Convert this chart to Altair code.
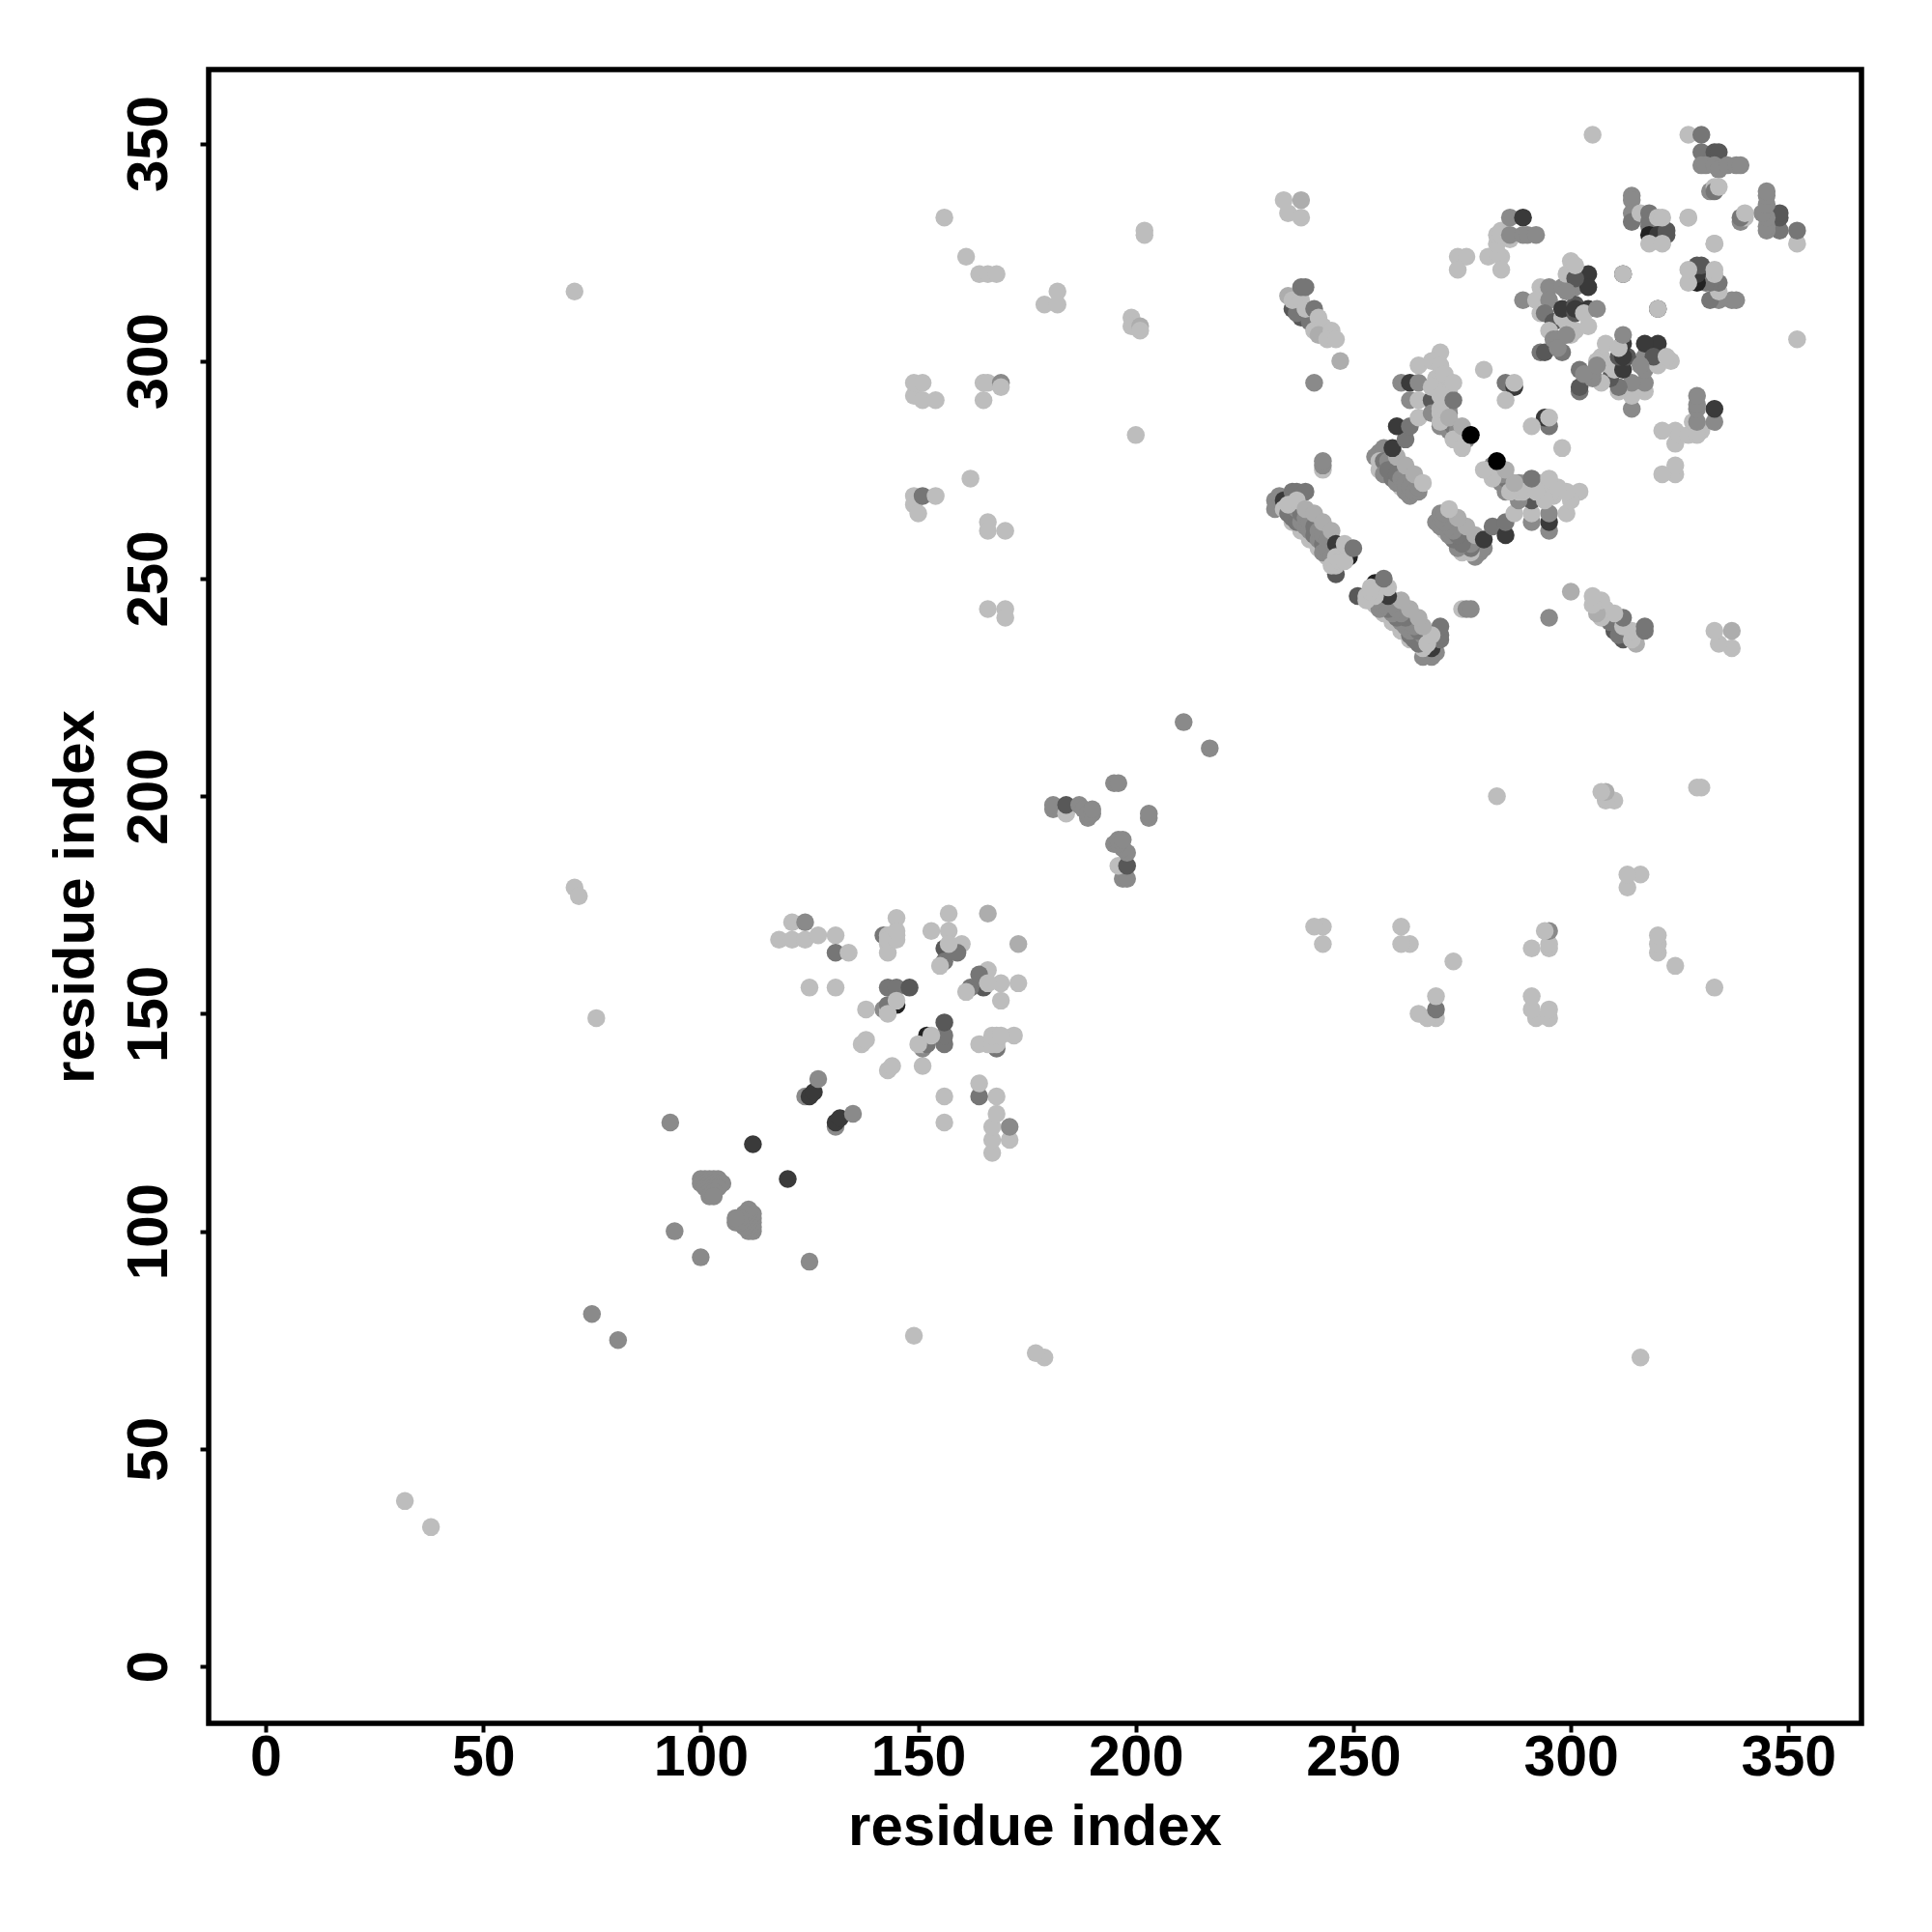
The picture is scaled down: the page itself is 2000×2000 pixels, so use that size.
import altair as alt
import pandas as pd

# contact level: 0 lightest ... 7 black
LEVELS = [0, 1, 2, 3, 4, 5, 6, 7]
SHADES = ["#bdbdbd", "#adadad", "#8a8a8a", "#767676", "#585858", "#3a3a3a", "#222222", "#000000"]
TICKS = [0, 50, 100, 150, 200, 250, 300, 350]
AXIS_TITLE = "residue index"

isolated = [
    (32, 38, 0), (75, 81, 2), (71, 179, 0), (72, 177, 0), (71, 316, 0), (76, 149, 0),
    (93, 125, 2), (94, 100, 2), (112, 120, 5), (211, 217, 2),
    (156, 333, 0), (161, 324, 0), (164, 320, 0), (166, 320, 0), (168, 320, 0),
    (179, 313, 0), (182, 316, 0), (182, 313, 0),
    (199, 310, 0), (199, 308, 0), (201, 308, 1), (201, 307, 0), (202, 330, 0), (202, 329, 0), (200, 283, 0),
    (149, 292, 0), (149, 295, 0), (151, 295, 0), (151, 291, 0), (154, 291, 0),
    (165, 291, 0), (165, 295, 0), (166, 295, 0), (169, 295, 2), (169, 294, 0),
    (149, 269, 0), (149, 267, 0), (150, 265, 0), (151, 269, 3), (154, 269, 0),
    (162, 273, 0), (166, 263, 0), (166, 261, 0), (170, 261, 0),
    (166, 243, 0), (170, 243, 0), (170, 241, 0),
    (234, 337, 0), (238, 337, 1), (235, 334, 0), (238, 333, 0),
]

cluster_100 = [
    (100, 112, 2), (101, 112, 2), (102, 112, 2), (103, 112, 2), (104, 112, 2),
    (100, 111, 2), (101, 111, 2), (102, 111, 2), (103, 111, 2), (104, 111, 2), (105, 111, 2),
    (101, 110, 2), (102, 110, 2), (103, 110, 2), (104, 110, 2),
    (102, 109, 2), (103, 109, 2), (102, 108, 2), (103, 108, 2),
]

cluster_150 = [
    (124, 131, 2), (125, 131, 5), (126, 132, 5), (127, 135, 2),
    (118, 167, 0), (121, 167, 0), (121, 171, 0), (124, 171, 2), (124, 167, 0), (127, 168, 0),
    (131, 168, 0), (131, 164, 3), (134, 164, 0), (125, 156, 0), (131, 156, 0),
    (145, 172, 0), (142, 168, 3), (143, 168, 0), (144, 168, 0), (145, 168, 0), (143, 166, 0), (143, 164, 0),
    (153, 169, 0), (157, 169, 0), (157, 173, 0), (166, 173, 1),
    (156, 165, 4), (158, 165, 3), (160, 166, 0), (156, 162, 3), (155, 161, 0), (159, 164, 3), (157, 166, 0),
    (143, 156, 3), (145, 156, 3), (148, 156, 4),
    (138, 151, 0), (142, 151, 2), (143, 151, 0), (145, 152, 6), (143, 152, 3), (143, 150, 0), (145, 153, 0),
    (143, 167, 0), (145, 167, 0), (145, 169, 0),
    (137, 143, 0), (138, 144, 0),
]

cluster_197 = [
    (181, 197, 2), (181, 198, 2), (184, 196, 0), (184, 198, 4),
    (187, 198, 2), (188, 197, 2), (189, 195, 2), (189, 196, 2), (190, 196, 2), (190, 197, 2),
    (195, 203, 2), (196, 203, 2),
]

band_a = [
    (232, 268, 2), (232, 266, 2), (233, 269, 2), (234, 268, 5), (236, 270, 3), (237, 270, 3), (239, 270, 3),
    (234, 266, 0), (236, 263, 0), (238, 261, 0), (240, 259, 0), (242, 257, 0), (244, 255, 0),
    (235, 265, 3), (236, 264, 3), (237, 263, 3), (238, 263, 2), (239, 262, 2), (240, 261, 2),
    (241, 260, 3), (242, 259, 2), (243, 258, 3), (243, 256, 2), (244, 257, 2), (245, 255, 2),
    (237, 266, 2), (238, 265, 3), (239, 264, 2), (240, 263, 2), (241, 262, 3), (242, 261, 2), (243, 260, 2), (244, 259, 2),
    (235, 267, 0), (237, 268, 0), (239, 266, 1), (241, 265, 1), (243, 263, 1), (245, 261, 1),
    (246, 251, 4), (246, 258, 5), (247, 256, 5), (249, 255, 6),
    (245, 253, 0), (246, 253, 0), (246, 255, 0), (247, 254, 0), (248, 254, 0),
    (248, 258, 0), (250, 257, 3),
    (243, 275, 0), (243, 276, 2), (243, 277, 2),
    (241, 295, 2), (247, 300, 1),
]

band_d = [
    (236, 312, 4), (238, 310, 4), (237, 311, 3), (240, 309, 3),
    (235, 315, 1), (236, 314, 0), (238, 314, 0), (239, 312, 0), (241, 312, 3),
    (242, 310, 0), (241, 307, 0), (243, 308, 0), (242, 306, 1), (245, 307, 0), (244, 305, 0), (246, 305, 0),
    (238, 317, 3), (239, 317, 3),
]

band_b = [
    (256, 275, 0), (261, 271, 0),
    (255, 278, 2), (256, 279, 2), (257, 280, 2), (256, 277, 0), (257, 277, 3), (258, 277, 2), (259, 276, 2),
    (257, 274, 2), (259, 273, 3), (260, 272, 2), (262, 270, 2), (263, 269, 2),
    (258, 275, 3), (260, 274, 3), (261, 273, 2), (262, 272, 2), (263, 271, 2), (264, 270, 2), (265, 270, 2), (265, 271, 2),
    (260, 278, 1), (262, 276, 1), (264, 274, 1), (266, 272, 0),
    (259, 280, 5), (262, 282, 3), (260, 285, 5), (263, 285, 3), (265, 287, 0),
    (261, 295, 2), (263, 295, 5), (265, 295, 2), (263, 291, 2), (265, 291, 0),
]

band_c = [
    (269, 296, 0), (270, 296, 0), (271, 294, 0), (272, 293, 0), (271, 291, 0), (272, 289, 0),
    (268, 291, 4), (268, 288, 2), (270, 285, 2), (272, 284, 2), (275, 283, 2), (274, 282, 2),
    (271, 289, 2), (272, 288, 2), (273, 285, 3), (274, 284, 2), (276, 282, 2),
    (270, 302, 0), (265, 299, 0), (268, 300, 0), (270, 299, 0), (271, 297, 0), (268, 294, 0),
    (270, 292, 0), (270, 289, 0), (270, 288, 0), (270, 286, 0), (273, 282, 0), (275, 280, 0),
    (273, 291, 3), (273, 295, 0), (272, 287, 1), (275, 285, 1), (277, 283, 7),
    (280, 298, 0), (285, 295, 3), (287, 294, 5), (287, 295, 0), (285, 291, 0),
]

cluster_320 = [
    (274, 324, 0), (276, 324, 0), (274, 321, 0),
    (281, 324, 0), (284, 324, 0), (284, 321, 0), (283, 325, 0), (283, 327, 0), (283, 329, 0), (284, 330, 0),
    (286, 328, 0), (284, 329, 0), (286, 333, 2), (289, 333, 5), (286, 329, 2), (289, 329, 2), (290, 329, 2), (292, 329, 2),
    (293, 317, 0), (295, 317, 2), (298, 317, 2), (301, 317, 2), (300, 323, 0), (299, 320, 0), (302, 320, 4),
    (304, 320, 5), (304, 317, 5), (312, 320, 5), (320, 312, 0),
    (289, 314, 2), (292, 314, 0), (295, 314, 2),
    (293, 311, 0), (294, 311, 3), (296, 309, 4), (295, 307, 0), (299, 309, 0), (298, 310, 0), (300, 307, 0), (301, 307, 0),
    (304, 308, 0), (300, 306, 0), (293, 302, 3), (294, 302, 4), (296, 305, 2), (297, 305, 2), (298, 302, 3), (297, 303, 2),
    (299, 306, 2),
    (298, 312, 5), (301, 311, 4), (301, 313, 4), (301, 312, 5), (304, 312, 5), (303, 311, 0), (306, 312, 2),
    (301, 319, 4), (301, 322, 0), (299, 316, 2),
]

cluster_340 = [
    (305, 352, 0), (327, 352, 0), (330, 352, 3), (330, 348, 3), (333, 348, 4), (334, 348, 4),
    (330, 345, 2), (331, 345, 2), (333, 345, 2), (334, 344, 2), (336, 345, 2), (338, 345, 2), (339, 345, 2),
    (332, 339, 2), (333, 340, 0), (333, 339, 3), (334, 340, 0),
    (327, 333, 0), (333, 327, 0), (314, 338, 2), (314, 337, 2), (314, 334, 2), (314, 332, 3), (316, 334, 0),
    (318, 334, 3), (318, 332, 3), (318, 331, 3), (320, 333, 0), (318, 329, 6), (320, 329, 5), (322, 329, 4),
    (322, 330, 4), (318, 327, 0), (321, 327, 0), (321, 333, 0),
]

contacts = (isolated + cluster_100 + cluster_150 + cluster_197 + band_a + band_d
            + band_b + band_c + cluster_320 + cluster_340)

rows = []
for a, b, lev in contacts:
    rows.append({"x": a, "y": b, "level": lev})
    rows.append({"x": b, "y": a, "level": lev})
df = pd.DataFrame(rows)

DOM_X = [-13.1, 366.8]
DOM_Y = [-13.1, 367.0]

FONT = "Liberation Sans"

chart = (
    alt.Chart(df)
    .mark_circle(size=342, opacity=1)
    .encode(
        x=alt.X(
            "x:Q",
            scale=alt.Scale(domain=DOM_X, nice=False, zero=False),
            axis=alt.Axis(
                values=TICKS, title=AXIS_TITLE, grid=False, domain=False, format="d",
                tickColor="black", tickWidth=4, tickSize=9,
                labelFont=FONT, labelFontSize=59, labelFontWeight="bold", labelColor="black",
                labelBaseline="alphabetic", labelPadding=44, labelOverlap=False, labelFlush=False,
                titleFont=FONT, titleFontSize=60, titleFontWeight="bold", titleColor="black",
                titleBaseline="alphabetic", titleX=855, titleY=125,
            ),
        ),
        y=alt.Y(
            "y:Q",
            scale=alt.Scale(domain=DOM_Y, nice=False, zero=False),
            axis=alt.Axis(
                values=TICKS, title=AXIS_TITLE, grid=False, domain=False, format="d",
                tickColor="black", tickWidth=4, tickSize=9,
                labelFont=FONT, labelFontSize=60, labelFontWeight="bold", labelColor="black",
                labelAngle=270, labelAlign="center", labelBaseline="alphabetic", labelPadding=35,
                labelOverlap=False, labelFlush=False,
                titleFont=FONT, titleFontSize=60, titleFontWeight="bold", titleColor="black",
                titleAngle=270, titleBaseline="alphabetic", titleX=-120, titleY=856,
            ),
        ),
        color=alt.Color("level:O", scale=alt.Scale(domain=LEVELS, range=SHADES), legend=None),
    )
    .properties(
        width=1711,
        height=1712,
        autosize=alt.AutoSizeParams(type="none"),
        padding={"left": 208, "top": 64, "right": 50, "bottom": 150},
        background="white",
    )
    .configure_view(stroke="black", strokeWidth=5.5)
)

chart.save("out.html", embed_options={"renderer": "svg", "actions": False})
